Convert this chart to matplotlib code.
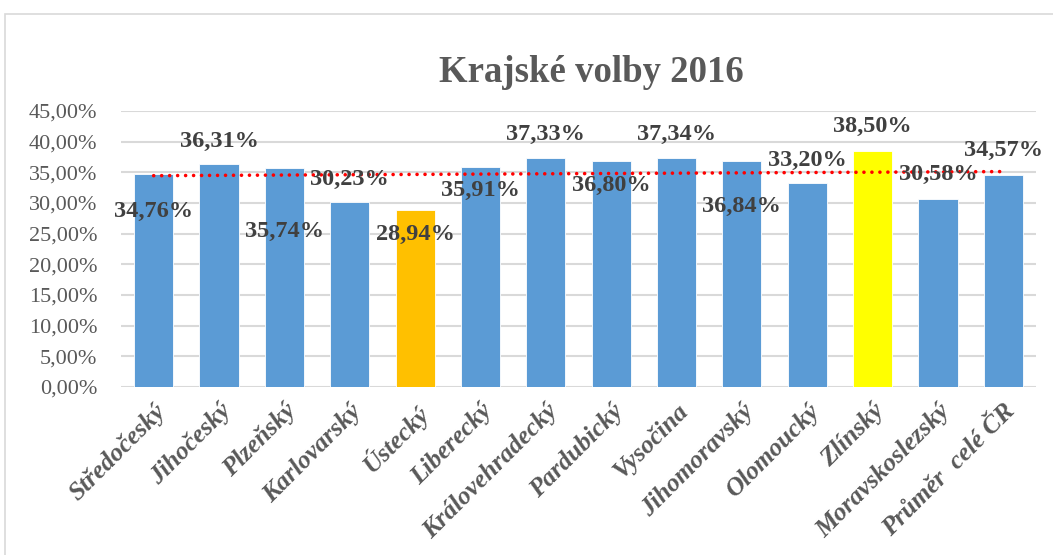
import numpy as np
import matplotlib
matplotlib.use("Agg")
import matplotlib.pyplot as plt
from matplotlib.patches import Rectangle

# data
regions = ['Středočeský', 'Jihočeský', 'Plzeňský', 'Karlovarský', 'Ústecký',
           'Liberecký', 'Královehradecký', 'Pardubický', 'Vysočina',
           'Jihomoravský', 'Olomoucký', 'Zlínský', 'Moravskoslezský',
           'Průměr  celé ČR']
turnout = [34.76, 36.31, 35.74, 30.23, 28.94, 35.91, 37.33, 36.80, 37.34,
           36.84, 33.20, 38.50, 30.58, 34.57]

# where Excel put the data labels (in % on the y axis)
label_y = [28.7, 40.0, 25.3, 33.9, 24.8, 32.1, 41.2, 32.9, 41.2, 29.4,
           37.0, 42.5, 34.6, 38.6]

blue = '#5B9BD5'
colors = [blue] * len(regions)
colors[4] = '#FFC000'
colors[11] = '#FFFF00'

plt.rcParams['font.family'] = ['Liberation Serif', 'DejaVu Serif']

fig = plt.figure(figsize=(10.53, 5.55), dpi=100)
fig.patches.append(Rectangle((5 / 1053, -0.1), 1.2, 1 - 14 / 555 + 0.1,
                             transform=fig.transFigure, fill=False,
                             edgecolor='#D9D9D9', lw=1.2))
ax = fig.add_axes([121 / 1053, 1 - 387 / 555, (1036 - 121) / 1053, (387 - 111) / 555])

x = np.arange(len(regions))
vals = np.array(turnout) / 100
ax.bar(x, vals, width=0.6, color=colors, edgecolor='#FFFFFF', linewidth=0.6, zorder=2)

# linear trendline
k, q = np.polyfit(x, vals, 1)
ax.plot(x, k * x + q, color='#FF0000', lw=2.6, linestyle=(0, (0.01, 2.2)),
        dash_capstyle='round', zorder=3)

for xi, v, ly in zip(x, turnout, label_y):
    ax.text(xi, ly / 100, f'{v:.2f}%'.replace('.', ','), ha='center', va='center',
            fontsize=17.5, fontweight='bold', color='#404040', zorder=4)

ax.set_xlim(-0.5, 13.5)
ax.set_ylim(0, 0.45)
yt = np.arange(0, 0.451, 0.05)
ax.set_yticks(yt)
ax.set_yticklabels([f'{t * 100:.2f}%'.replace('.', ',') for t in yt],
                   fontsize=16, color='#595959')
ax.set_xticks(x)
ax.set_xticklabels(regions, rotation=45, ha='right', rotation_mode='anchor',
                   fontsize=18.5, fontweight='bold', fontstyle='italic', color='#595959')
ax.tick_params(axis='y', length=0, pad=17)
ax.tick_params(axis='x', length=0, pad=9)
ax.grid(axis='y', color='#D9D9D9', lw=1.5, zorder=0)
ax.set_axisbelow(True)
for s in ax.spines.values():
    s.set_visible(False)

fig.text(0.562, 1 - 73 / 555, 'Krajské volby 2016', ha='center', va='center',
         fontsize=26.5, fontweight='bold', color='#595959')

fig.savefig('out.png', dpi=100)
